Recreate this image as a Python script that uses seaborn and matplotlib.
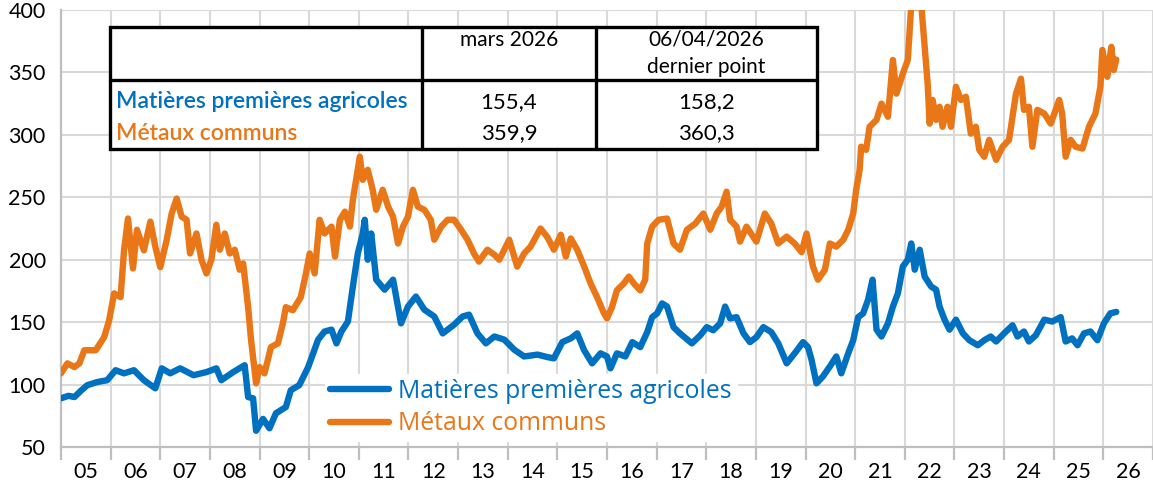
import matplotlib
matplotlib.use("Agg")
import matplotlib.pyplot as plt
import pandas as pd
import seaborn as sns
from matplotlib.lines import Line2D
from matplotlib.patches import Rectangle

# Indices des prix des matières premières (dates en années décimales)
agri_t = [2005.00, 2005.15, 2005.27, 2005.40, 2005.53, 2005.73, 2005.93, 2006.10, 2006.27, 2006.47,
          2006.67, 2006.90, 2007.03, 2007.20, 2007.40, 2007.67, 2007.93, 2008.13, 2008.23, 2008.47,
          2008.70, 2008.77, 2008.87, 2008.93, 2009.07, 2009.20, 2009.33, 2009.53, 2009.63, 2009.80,
          2009.98, 2010.18, 2010.31, 2010.45, 2010.55, 2010.65, 2010.78, 2010.88, 2010.98, 2011.08,
          2011.12, 2011.18, 2011.25, 2011.35, 2011.52, 2011.69, 2011.85, 2011.99, 2012.15, 2012.32,
          2012.52, 2012.69, 2012.92, 2013.09, 2013.22, 2013.39, 2013.56, 2013.73, 2013.93, 2014.13,
          2014.33, 2014.60, 2014.80, 2014.93, 2015.10, 2015.27, 2015.40, 2015.54, 2015.70, 2015.87,
          2016.00, 2016.07, 2016.20, 2016.37, 2016.51, 2016.67, 2016.81, 2016.91, 2017.01, 2017.11,
          2017.21, 2017.34, 2017.47, 2017.71, 2017.88, 2018.01, 2018.14, 2018.28, 2018.38, 2018.48,
          2018.61, 2018.75, 2018.88, 2019.01, 2019.15, 2019.31, 2019.45, 2019.62, 2019.80, 2019.95,
          2020.05, 2020.12, 2020.22, 2020.35, 2020.49, 2020.62, 2020.72, 2020.86, 2020.96, 2021.06,
          2021.16, 2021.26, 2021.35, 2021.43, 2021.53, 2021.66, 2021.76, 2021.86, 2021.96, 2022.06,
          2022.13, 2022.20, 2022.30, 2022.40, 2022.53, 2022.63, 2022.70, 2022.80, 2022.90, 2023.03,
          2023.17, 2023.30, 2023.47, 2023.60, 2023.73, 2023.84, 2024.00, 2024.17, 2024.27, 2024.40,
          2024.50, 2024.64, 2024.81, 2024.97, 2025.14, 2025.24, 2025.37, 2025.48, 2025.61, 2025.74,
          2025.88, 2026.01, 2026.14, 2026.26]
agri_v = [89, 91, 90, 95, 99.5, 102, 103.5, 111.5, 109, 111.5,
          103.5, 97, 113, 109, 113, 107.5, 110, 113, 103.5, 110,
          115.5, 90, 89, 63, 72.5, 65, 77, 82, 95.5, 99.5,
          114, 136, 142.5, 144, 133, 142.5, 150.5, 178.5, 205, 221,
          232, 200, 221, 184, 176, 184, 149, 162.5, 170.5, 160,
          154.5, 141, 148, 154.5, 156, 141, 133, 138.5, 136, 128,
          122.5, 124, 122, 121, 134, 137, 141, 127.5, 117, 125,
          122.5, 113, 125, 122.5, 134, 130, 142, 154, 157, 165,
          162.5, 146, 141, 133, 139.5, 146, 143.5, 149, 162.5, 153,
          154, 141, 134, 138, 146, 142, 133, 117, 126, 134,
          130, 120, 101, 106.5, 114.5, 122.5, 109, 125, 135.5, 154,
          157, 168, 184, 144, 138.5, 149, 162.5, 173, 194.5, 200,
          213, 192, 208, 186.5, 178.5, 176, 162.5, 152, 144, 152,
          141, 135.5, 131.5, 135.5, 138.5, 134.5, 141, 147.5, 138.5, 142.5,
          134.5, 139.5, 152, 150.5, 154, 134.5, 137, 131.5, 141, 142.5,
          135.5, 149, 157, 158.2]

metal_t = [2005.00, 2005.13, 2005.27, 2005.37, 2005.47, 2005.70, 2005.87, 2005.97, 2006.07, 2006.20,
           2006.27, 2006.35, 2006.45, 2006.53, 2006.67, 2006.80, 2006.90, 2007.00, 2007.13, 2007.23,
           2007.33, 2007.43, 2007.53, 2007.60, 2007.73, 2007.83, 2007.93, 2008.03, 2008.13, 2008.20,
           2008.30, 2008.40, 2008.50, 2008.60, 2008.67, 2008.77, 2008.83, 2008.93, 2009.00, 2009.10,
           2009.23, 2009.37, 2009.47, 2009.53, 2009.67, 2009.83, 2009.93, 2010.01, 2010.11, 2010.21,
           2010.31, 2010.45, 2010.52, 2010.62, 2010.72, 2010.82, 2010.88, 2011.02, 2011.08, 2011.18,
           2011.28, 2011.35, 2011.48, 2011.59, 2011.69, 2011.79, 2011.89, 2011.99, 2012.09, 2012.19,
           2012.32, 2012.45, 2012.52, 2012.66, 2012.79, 2012.92, 2013.06, 2013.19, 2013.32, 2013.42,
           2013.59, 2013.73, 2013.83, 2014.03, 2014.19, 2014.33, 2014.46, 2014.66, 2014.80, 2014.93,
           2015.07, 2015.17, 2015.27, 2015.40, 2015.54, 2015.67, 2015.80, 2015.94, 2016.00, 2016.10,
           2016.20, 2016.34, 2016.44, 2016.54, 2016.67, 2016.77, 2016.81, 2016.91, 2017.04, 2017.21,
           2017.34, 2017.47, 2017.61, 2017.78, 2017.94, 2018.08, 2018.21, 2018.31, 2018.41, 2018.48,
           2018.61, 2018.68, 2018.81, 2019.01, 2019.18, 2019.31, 2019.45, 2019.62, 2019.78, 2019.92,
           2020.02, 2020.15, 2020.25, 2020.39, 2020.49, 2020.62, 2020.76, 2020.86, 2020.96, 2021.02,
           2021.09, 2021.12, 2021.22, 2021.29, 2021.43, 2021.53, 2021.66, 2021.76, 2021.83, 2021.96,
           2022.06, 2022.13, 2022.23, 2022.33, 2022.40, 2022.46, 2022.50, 2022.56, 2022.63, 2022.70,
           2022.76, 2022.86, 2022.93, 2023.03, 2023.13, 2023.23, 2023.33, 2023.43, 2023.50, 2023.60,
           2023.70, 2023.84, 2023.97, 2024.10, 2024.24, 2024.34, 2024.40, 2024.50, 2024.57, 2024.67,
           2024.81, 2024.94, 2025.11, 2025.17, 2025.24, 2025.34, 2025.44, 2025.58, 2025.71, 2025.84,
           2025.94, 2025.98, 2026.08, 2026.16, 2026.21, 2026.26]
metal_v = [109, 117, 114, 117, 127.5, 127.5, 138, 151.5, 173, 170,
           207.5, 233, 193, 224, 207.5, 230.5, 210.5, 194, 216, 237,
           249, 234.5, 232, 205, 221, 200, 189, 200, 228, 208,
           221, 205, 208, 192, 197, 162, 135.5, 101, 114, 109,
           130, 133, 149, 162, 159.5, 170, 188, 205, 189, 232,
           221, 226.5, 202.5, 232, 238.5, 226.5, 248, 282.5, 264, 272,
           256, 240, 256, 242.5, 234.5, 213, 226.5, 234.5, 256, 242.5,
           240, 232, 216, 226.5, 232, 232, 224, 216, 205, 198.5,
           208, 204, 200, 216, 194.5, 205, 210.5, 225, 218, 208,
           220, 202.5, 217, 208, 194.5, 181, 170, 157, 153, 162,
           175.5, 181, 186.5, 181, 175.5, 184, 213, 226.5, 232, 233,
           213, 208, 224, 229, 237, 224, 237, 242.5, 254.5, 232,
           226.5, 214.5, 226.5, 214.5, 237, 229, 213, 218.5, 213, 206,
           221, 194.5, 184, 192, 213, 210.5, 216, 224, 237, 256,
           272, 290.5, 288, 306.5, 312, 325, 314.5, 360, 333, 349,
           360, 404, 402, 405, 370.5, 341, 309, 328, 312, 322.5,
           306.5, 322.5, 306.5, 338.5, 328, 330.5, 301, 306.5, 288, 282.5,
           296, 280, 290.5, 296, 333, 345, 320, 322.5, 290.5, 320,
           317, 309, 328, 317, 282.5, 296, 290.5, 289, 306.5, 317,
           338.5, 368, 346.5, 370.5, 352, 360.3]

series_names = ["Matières premières agricoles", "Métaux communs"]
series_colors = ["#0070C0", "#E97617"]
years = list(range(2005, 2027))
year_labels = ["05", "06", "07", "08", "09", "10", "11", "12", "13", "14", "15",
               "16", "17", "18", "19", "20", "21", "22", "23", "24", "25", "26"]
y_ticks = [50, 100, 150, 200, 250, 300, 350, 400]
table_columns = ["mars 2026", "06/04/2026\ndernier point"]
table_values = [["155,4", "158,2"], ["359,9", "360,3"]]

df = pd.concat([
    pd.DataFrame({"date": agri_t, "indice": agri_v, "serie": series_names[0]}),
    pd.DataFrame({"date": metal_t, "indice": metal_v, "serie": series_names[1]}),
], ignore_index=True)

sns.set_theme(style="white")
plt.rcParams["font.family"] = ["Lato", "DejaVu Sans"]

W, H = 1153, 493
fig = plt.figure(figsize=(W / 100, H / 100), dpi=100)
ax = fig.add_axes([61 / W, 46 / H, 1092 / W, 437 / H])

sns.lineplot(data=df, x="date", y="indice", hue="serie", hue_order=series_names,
             palette=series_colors, estimator=None, linewidth=4.6, legend=False,
             solid_joinstyle="round", solid_capstyle="round", ax=ax, zorder=3)

grid_col = "#D9D9D9"
axis_col = "#BFBFBF"
ax.set_xlim(2005, 2026.93)
ax.set_ylim(50, 400)
ax.set_xlabel("")
ax.set_ylabel("")

ax.set_yticks(y_ticks)
ax.set_yticklabels([str(v) for v in y_ticks])
ax.tick_params(axis="y", length=0, pad=11, labelsize=15.5, labelcolor="black")

ax.set_xticks(years + [2027])
ax.set_xticklabels([])
ax.set_xticks([y + 0.5 for y in years], minor=True)
ax.set_xticklabels(year_labels, minor=True)
ax.tick_params(axis="x", which="major", direction="out", length=9, width=1.6,
               color=axis_col, bottom=True)
ax.tick_params(axis="x", which="minor", length=0, pad=11, labelsize=15.5,
               labelcolor="black", bottom=True)

ax.grid(True, which="major", color=grid_col, linewidth=1.5, zorder=0)
ax.set_axisbelow(True)
for side in ("top", "right"):
    ax.spines[side].set_visible(False)
for side in ("left", "bottom"):
    ax.spines[side].set_color(axis_col)
    ax.spines[side].set_linewidth(1.6)

# Légende
handles = [Line2D([0], [0], color=c, linewidth=4.6) for c in series_colors]
leg = ax.legend(handles, series_names, loc="upper left",
                bbox_to_anchor=(325 / W, 1 - 374 / H), bbox_transform=fig.transFigure,
                prop={"family": ["Open Sans", "DejaVu Sans"], "size": 17.8},
                frameon=True, facecolor="white", edgecolor="white",
                framealpha=1, fancybox=False, handlelength=2.4, handletextpad=0.35,
                labelspacing=0.3, borderpad=0.2, borderaxespad=0)
leg.set_zorder(5)
for txt, c in zip(leg.get_texts(), series_colors):
    txt.set_color(c)

# Tableau récapitulatif
def fx(px):
    return px / W

def fy(py):
    return 1 - py / H

left, right, top, bottom = 110, 817, 27, 149
mid_y, col1, col2 = 80, 422, 596
fig.patches.append(Rectangle((fx(left), fy(bottom)), fx(right) - fx(left), fy(top) - fy(bottom),
                             transform=fig.transFigure, facecolor="white", edgecolor="black",
                             linewidth=2.4, zorder=6))
for (x0, y0, x1, y1) in [(left, mid_y, right, mid_y), (col1, top, col1, bottom), (col2, top, col2, bottom)]:
    fig.lines.append(Line2D([fx(x0), fx(x1)], [fy(y0), fy(y1)], transform=fig.transFigure,
                            color="black", linewidth=2.4, zorder=7))

col_centers = [(col1 + col2) / 2, (col2 + right) / 2]
for cx, head in zip(col_centers, table_columns):
    fig.text(fx(cx), fy(30), head, ha="center", va="top", fontsize=15,
             color="black", linespacing=1.45, zorder=8)

row_y = [102, 133]
for ry, name, c, vals in zip(row_y, series_names, series_colors, table_values):
    fig.text(fx(116), fy(ry), name, ha="left", va="center", fontsize=16.5,
             fontweight="semibold", color=c, zorder=8)
    for cx, v in zip(col_centers, vals):
        fig.text(fx(cx), fy(ry), v, ha="center", va="center", fontsize=16,
                 color="black", zorder=8)

fig.savefig("out.png", dpi=100)
